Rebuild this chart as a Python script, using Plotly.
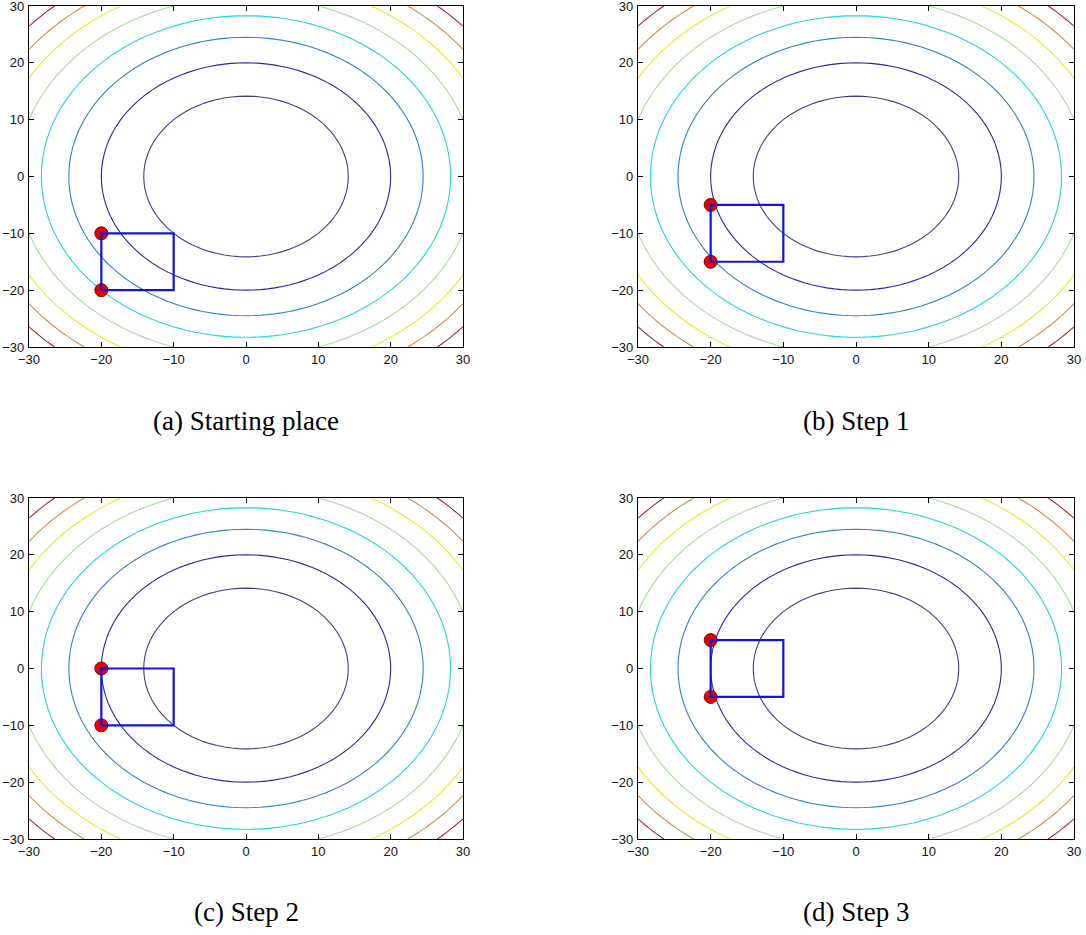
import numpy as np
import plotly.graph_objects as go

# ---- data ----
grid = list(range(-30, 31))                       # contour grid (x and y)
levels = [200, 400, 600, 800, 1000, 1200, 1400, 1600]
level_colors = ["#40408c", "#2626a8", "#2f7fd2", "#22d4dc",
                "#a6dc98", "#ece628", "#d48a4a", "#b01a2a"]
captions = ["(a) Starting place", "(b) Step 1", "(c) Step 2", "(d) Step 3"]
rect_x0 = [-20, -20, -20, -20]
rect_x1 = [-10, -10, -10, -10]
rect_y0 = [-20, -15, -10, -5]
rect_y1 = [-10, -5, 0, 5]
point_x = [[-20, -20], [-20, -20], [-20, -20], [-20, -20]]
point_y = [[-10, -20], [-5, -15], [0, -10], [5, -5]]
ticks = [-30, -20, -10, 0, 10, 20, 30]

# objective surface f(x, y) = x^2 + y^2
gx = np.array(grid, dtype=float)
Z = gx[None, :] ** 2 + gx[:, None] ** 2

W, H = 1086, 935
xdoms = [[29 / W, 463 / W], [638 / W, 1074 / W]]
ydoms = [[1 - 347 / H, 1 - 6 / H], [1 - 839 / H, 1 - 498 / H]]

fig = go.Figure()
cs = []
n = len(levels)
for i, c in enumerate(level_colors):
    cs.append([i / (n - 1), c])

for k in range(4):
    r, col = divmod(k, 2)
    ax = "" if k == 0 else str(k + 1)
    xa, ya = "x" + ax, "y" + ax
    fig.add_trace(go.Contour(
        x=grid, y=grid, z=Z, xaxis=xa, yaxis=ya,
        contours=dict(start=levels[0], end=levels[-1], size=levels[1] - levels[0],
                      coloring="lines"),
        colorscale=cs, zmin=levels[0], zmax=levels[-1], showscale=False,
        line=dict(width=1.1, smoothing=0), hoverinfo="skip"))
    fig.add_trace(go.Scatter(
        x=point_x[k], y=point_y[k], xaxis=xa, yaxis=ya, mode="markers",
        marker=dict(size=13, color="#e80000", line=dict(color="#8a0000", width=1)),
        showlegend=False))
    fig.add_trace(go.Scatter(
        x=[rect_x0[k], rect_x1[k], rect_x1[k], rect_x0[k], rect_x0[k]],
        y=[rect_y0[k], rect_y0[k], rect_y1[k], rect_y1[k], rect_y0[k]],
        xaxis=xa, yaxis=ya, mode="lines",
        line=dict(color="#1414d8", width=2.2), showlegend=False))
    axcommon = dict(range=[-30, 30], tickvals=ticks, ticks="inside", ticklen=5,
                    tickcolor="black", showgrid=False, zeroline=False,
                    showline=True, linecolor="black", linewidth=1.3, mirror="ticks",
                    tickfont=dict(family="Liberation Sans, Arial", size=13, color="#111"),
                    fixedrange=True, automargin=False, ticklabeloverflow="allow")
    fig.update_layout(**{
        ("xaxis" + ax): dict(domain=xdoms[col], anchor=ya, ticklabelstandoff=0, **axcommon),
        ("yaxis" + ax): dict(domain=ydoms[r], anchor=xa, ticklabelstandoff=1, **axcommon),
    })
    cx = (xdoms[col][0] + xdoms[col][1]) / 2
    cy_px = 421 if r == 0 else 912
    fig.add_annotation(text=captions[k], x=cx, y=1 - cy_px / H, xref="paper", yref="paper",
                       showarrow=False, xanchor="center", yanchor="middle",
                       font=dict(family="Liberation Serif", size=27, color="black"))

fig.update_layout(width=W, height=H, margin=dict(l=0, r=0, t=0, b=0, autoexpand=False),
                  paper_bgcolor="white", plot_bgcolor="white", showlegend=False)
fig.write_html("out.html", config={"displayModeBar": False},
               post_script="document.body.style.margin='0';document.body.style.overflow='hidden';")
